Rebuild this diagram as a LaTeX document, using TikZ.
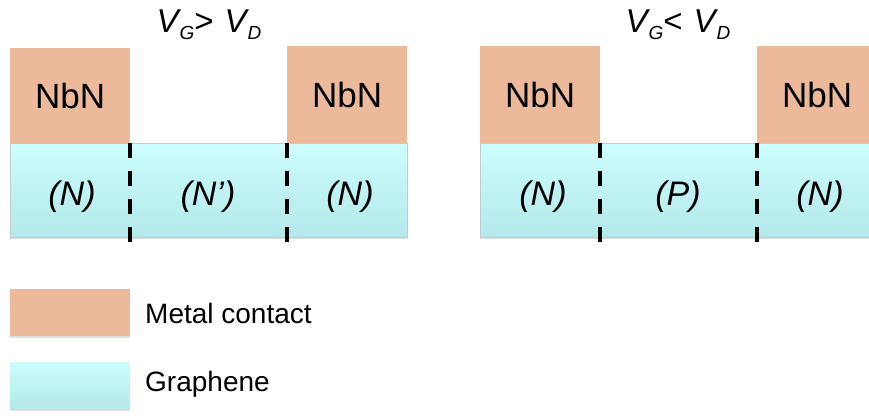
\documentclass[tikz,border=0pt]{standalone}
\usepackage{fontspec}
\setmainfont{Liberation Sans}
\usetikzlibrary{shadows}
\definecolor{metal}{RGB}{236,186,154}
\definecolor{graTop}{RGB}{205,253,253}
\definecolor{graBot}{RGB}{180,232,234}
\definecolor{graEdge}{RGB}{190,205,205}
\tikzset{
  metalbox/.style={fill=metal, minimum width=120pt, minimum height=96pt, inner sep=0pt,
    anchor=north west, font=\fontsize{35}{40}\selectfont, text=black},
  grabox/.style={top color=graTop, bottom color=graBot, draw=graEdge, line width=0.6pt,
    minimum height=94pt, inner sep=0pt, anchor=north west,
    drop shadow={opacity=0.25, shadow xshift=0pt, shadow yshift=-2pt}},
  region/.style={font=\fontsize{34}{40}\selectfont\itshape, inner sep=0pt},
  sepline/.style={line width=4.5pt, dash pattern=on 15pt off 13pt},
  titletext/.style={font=\fontsize{33}{38}\selectfont, anchor=base, inner sep=0pt},
  legendtext/.style={font=\fontsize{28}{32}\selectfont, anchor=base west, inner sep=0pt},
  legendbox/.style={minimum width=120pt, minimum height=47pt, inner sep=0pt, anchor=north west,
    drop shadow={opacity=0.25, shadow xshift=0pt, shadow yshift=-2pt}}
}
\newcommand{\subsc}[1]{\raisebox{-7pt}{\fontsize{19}{21}\selectfont\itshape #1}}
\begin{document}
\begin{tikzpicture}[x=1pt,y=-1pt]
\useasboundingbox (0,0) rectangle (869,415);
\clip (0,0) rectangle (869,415);

% ---------- left diagram ----------
\node[titletext] (t1) at (209,32) {\itshape V\kern1pt\subsc{G}\upshape>\hspace{11pt}\itshape V\kern1pt\subsc{D}};
\node[grabox, minimum width=397pt] (g1) at (10,143) {};
\node[metalbox] (m1) at (10,48) {NbN};
\node[metalbox, minimum height=97pt] (m2) at (287,46) {NbN};
\coordinate (d1a) at (130,143);
\coordinate (d1b) at (130,242);
\coordinate (d2a) at (287,143);
\coordinate (d2b) at (287,242);
\draw[sepline] (d1a) -- (d1b);
\draw[sepline] (d2a) -- (d2b);
\node[region] (r1) at (72,197) {(N)};
\node[region] (r2) at (208,197) {(N’)};
\node[region] (r3) at (350,197) {(N)};

% ---------- right diagram ----------
\node[titletext] (t2) at (678,32) {\itshape V\kern1pt\subsc{G}\upshape<\hspace{11pt}\itshape V\kern1pt\subsc{D}};
\node[grabox, minimum width=397pt] (g2) at (480,143) {};
\node[metalbox, minimum height=97pt] (m3) at (480,46) {NbN};
\node[metalbox, minimum height=97pt] (m4) at (757,46) {NbN};
\coordinate (d3a) at (600,143);
\coordinate (d3b) at (600,242);
\coordinate (d4a) at (757,143);
\coordinate (d4b) at (757,242);
\draw[sepline] (d3a) -- (d3b);
\draw[sepline] (d4a) -- (d4b);
\node[region] (r4) at (543,197) {(N)};
\node[region] (r5) at (678,197) {(P)};
\node[region] (r6) at (820,197) {(N)};

% ---------- legend ----------
\node[legendbox, fill=metal] (lm) at (10,289) {};
\node[legendtext] (lmt) at (145,323) {Metal contact};
\node[legendbox, top color=graTop, bottom color=graBot] (lg) at (10,362) {};
\node[legendtext] (lgt) at (145,391) {Graphene};
\end{tikzpicture}
\end{document}
